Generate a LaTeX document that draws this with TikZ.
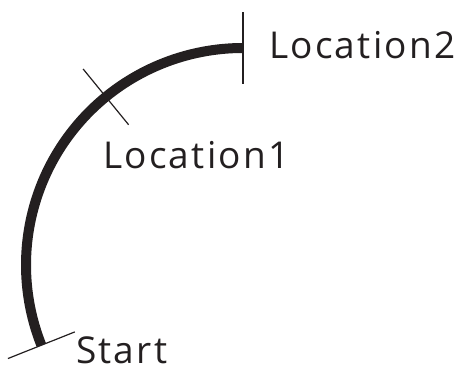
\documentclass[tikz,border=0pt]{standalone}
\usepackage{fontspec}
\setmainfont{Open Sans}[LetterSpace=6]
\definecolor{ink}{HTML}{231F20}
\begin{document}
\begin{tikzpicture}[x=1pt,y=1pt,
  arcline/.style={draw=ink,line width=10pt},
  tickline/.style={draw=ink,line width=1.2pt},
  lbl/.style={anchor=base west,inner sep=0pt,text=ink,font=\fontsize{37}{40}\selectfont}]
\useasboundingbox (0,0) rectangle (459,367);
\coordinate (c) at (243,102);
\coordinate (s) at ([shift={(201.7:217)}]c);
\coordinate (l2) at ([shift={(90:217)}]c);
\coordinate (s-in) at ([shift={(201.7:181)}]c);
\coordinate (s-out) at ([shift={(201.7:253)}]c);
\coordinate (l1-in) at ([shift={(129.2:181)}]c);
\coordinate (l1-out) at ([shift={(129.2:253)}]c);
\coordinate (l2-in) at ([shift={(90:181)}]c);
\coordinate (l2-out) at ([shift={(90:253)}]c);
\draw[arcline] (s) arc[start angle=201.7, end angle=90, radius=217];
\draw[tickline] (s-in) -- (s-out);
\draw[tickline] (l1-in) -- (l1-out);
\draw[tickline] (l2-in) -- (l2-out);
\node[lbl] (tstart) at (76,3) {Start};
\node[lbl] (tloc1) at (103,198) {Location1};
\node[lbl] (tloc2) at (269,308) {Location2};
\end{tikzpicture}
\end{document}
